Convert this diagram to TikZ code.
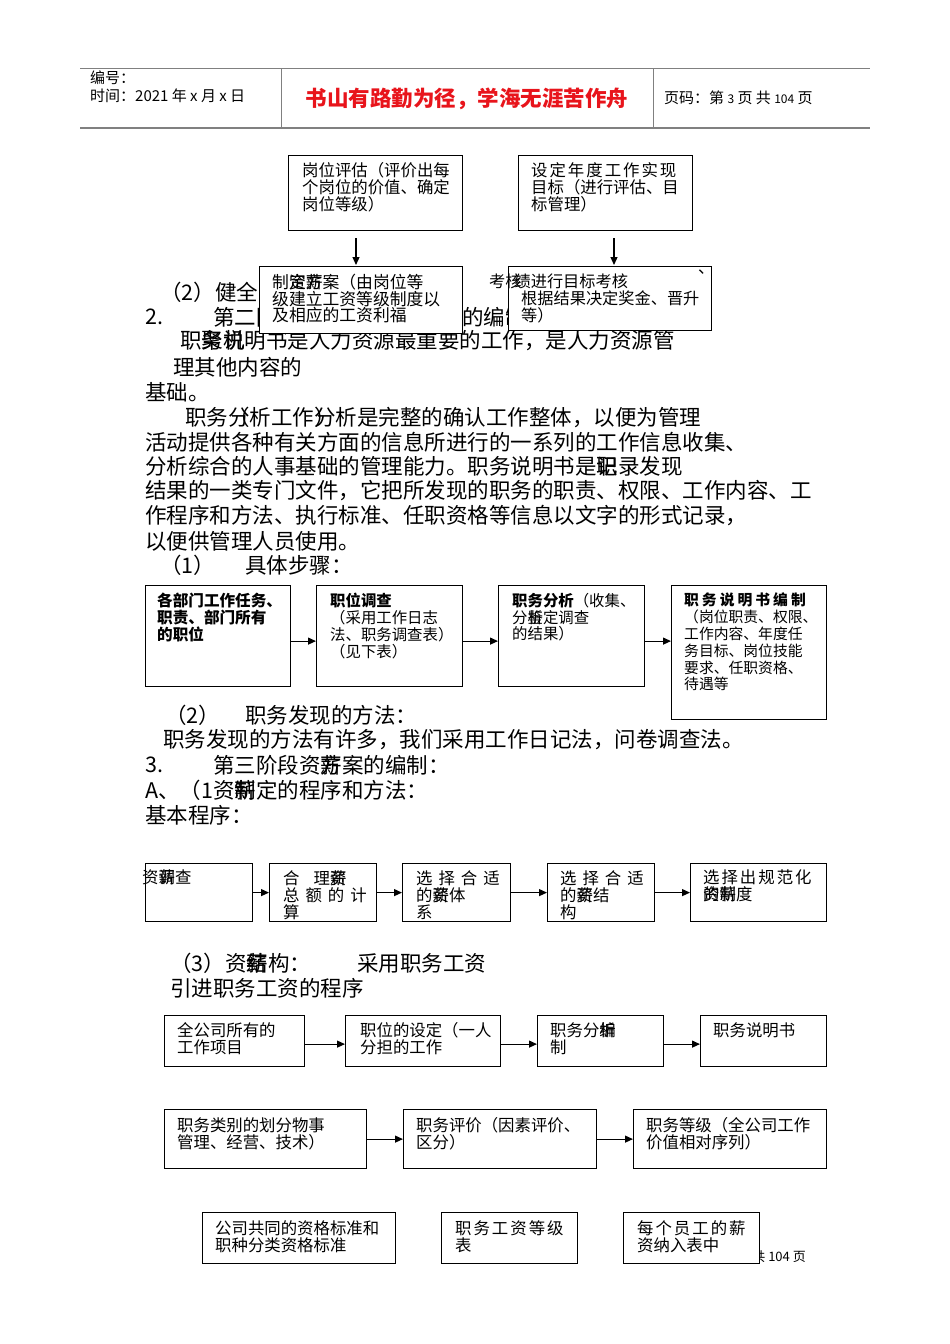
\documentclass[tikz,border=0pt]{standalone}
\usepackage{fontspec}
\setmainfont{Noto Sans CJK SC}
\usetikzlibrary{arrows.meta}
\definecolor{hdred}{HTML}{E8141B}
\definecolor{hdgray}{HTML}{808080}
\begin{document}
\begin{tikzpicture}[x=1pt,y=-1pt,
  box/.style={draw, line width=1.2pt, fill=white, anchor=north west, inner sep=0pt},
  bt/.style={anchor=north west, inner sep=0pt, align=left, font=\fontsize{16.4}{17}\selectfont},
  body/.style={anchor=west, inner sep=0pt, font=\fontsize{21.5}{25}\selectfont},
  hd/.style={anchor=west, inner sep=0pt, font=\fontsize{15}{17}\selectfont},
  arr/.style={line width=1.2pt, -{Triangle[length=8pt,width=7pt]}}]
\path[use as bounding box, fill=white] (0,0) rectangle (950,1344);

% ---------- header ----------
\draw[hdgray, line width=0.8pt] (80,68) -- (870,68);
\draw[hdgray, line width=2pt] (80,128) -- (870,128);
\draw[hdgray, line width=0.8pt] (281,68) -- (281,128);
\draw[hdgray, line width=0.8pt] (653,68) -- (653,128);
\node[hd] (h1) at (90,78) {编号：};
\node[hd] (h2) at (90,96) {时间：2021 年 x 月 x 日};
\node[anchor=center, inner sep=0pt, text=hdred, font=\fontsize{21.5}{24}\selectfont\bfseries] (h3) at (467,99) {书山有路勤为径，学海无涯苦作舟};
\node[hd] (h4) at (664,98) {页码：第 {\fontsize{12}{14}\selectfont 3} 页 共 {\fontsize{12}{14}\selectfont 104} 页};

% ---------- body text (behind boxes) ----------
\node[body] (t1) at (160,292) {（2）健全};
\node[body] (t2a) at (145,317) {2.};
\node[body] (t2b) at (213,317) {第二阶段};
\node[body] (t2c) at (462,317) {的编制};
\node[body] (t3) at (180,341) {职\rlap{聚}务\rlap{机}说明书是人力资源最重要的工作，是人力资源管};
\node[body] (t4) at (173,367) {理其他内容的};
\node[body] (t5) at (145,392) {基础。};
\node[body] (t6) at (185,417) {职务\rlap{（}分析工作\rlap{）}分析是完整的确认工作整体，以便为管理};
\node[body] (t7) at (145,442) {活动提供各种有关方面的信息所进行的一系列的工作信息收集、};
\node[body] (t8) at (145,466) {分析综合的人事基础的管理能力。职务说明书是\rlap{职}记录发现};
\node[body] (t9) at (145,491) {结果的一类专门文件，它把所发现的职务的职责、权限、工作内容、工};
\node[body] (t10) at (145,516) {作程序和方法、执行标准、任职资格等信息以文字的形式记录，};
\node[body] (t11) at (145,541) {以便供管理人员使用。};
\node[body] (t12a) at (160,565) {（1）};
\node[body] (t12b) at (245,565) {具体步骤：};

% ---------- top boxes ----------
\node[box, minimum width=174pt, minimum height=75pt] (a1) at (288,155) {};
\node[bt] (a1t) at (302,162) {岗位评估（评价出每\\个岗位的价值、确定\\岗位等级）};
\node[box, minimum width=174pt, minimum height=75pt] (a2) at (518,155) {};
\node[bt] (a2t) at (531,162) {设\hspace{2pt}定\hspace{2pt}年\hspace{2pt}度\hspace{2pt}工\hspace{2pt}作\hspace{2pt}实\hspace{2pt}现\\目标（进行评估、目\\标管理）};
\coordinate (p1) at (356,238); \coordinate (p2) at (356,265);
\coordinate (p3) at (614,238); \coordinate (p4) at (614,265);
\draw[arr] (p1) -- (p2);
\draw[arr] (p3) -- (p4);
\node[box, minimum width=203pt, minimum height=67pt] (b1) at (259,266) {};
\node[bt, font=\fontsize{16.8}{16.6}\selectfont] (b1t) at (272,274) {制\rlap{定}资\rlap{方}薪案（由岗位等\\级建立工资等级制度以\\及相应的工资利福};
\node[box, minimum width=203pt, minimum height=64pt] (b2) at (508,266) {};
\node[bt, font=\fontsize{16.2}{16.6}\selectfont] (b2t) at (489,274) {考核\kern-7pt 绩进行目标考核\\\hspace{32pt}根据结果决定奖金、晋升\\\hspace{32pt}等）};
\node[bt] (b2p) at (698,270) {、};

% ---------- step boxes ----------
\node[box, minimum width=145pt, minimum height=101pt] (s1) at (145,585) {};
\node[bt, font=\fontsize{15.6}{16.8}\selectfont\bfseries] (s1t) at (157,593) {各部门工作任务、\\职责、部门所有\\的职位};
\node[box, minimum width=146pt, minimum height=101pt] (s2) at (316,585) {};
\node[bt, font=\fontsize{15.4}{16.8}\selectfont] (s2t) at (330,593) {\textbf{职位调查}\\（采用工作日志\\法、职务调查表）\\（见下表）};
\node[box, minimum width=146pt, minimum height=101pt] (s3) at (498,585) {};
\node[bt, font=\fontsize{15.4}{16.8}\selectfont] (s3t) at (512,593) {\textbf{职务分析}（收集、\\分\rlap{析}鉴定调查\\的结果）};
\node[box, minimum width=155pt, minimum height=134pt] (s4) at (671,585) {};
\node[bt, font=\fontsize{14.8}{16.8}\selectfont] (s4t) at (684,593) {\textbf{职\hspace{3pt}务\hspace{3pt}说\hspace{3pt}明\hspace{3pt}书\hspace{3pt}编\hspace{3pt}制}\\（岗位职责、权限、\\工作内容、年度任\\务目标、岗位技能\\要求、任职资格、\\待遇等};
\draw[arr] ([yshift=-5pt]s1.east) -- ([yshift=-5pt]s1.east -| s2.west);
\draw[arr] ([yshift=-5pt]s2.east) -- ([yshift=-5pt]s2.east -| s3.west);
\draw[arr] ([yshift=-5pt]s3.east) -- ([yshift=-5pt]s3.east -| s4.west);

% ---------- middle text ----------
\node[body] (u1a) at (165,715) {（2）};
\node[body] (u1b) at (245,715) {职务发现的方法：};
\node[body] (u2) at (163,740) {职务发现的方法有许多，我们采用工作日记法，问卷调查法。};
\node[body] (u3a) at (145,765) {3.};
\node[body] (u3b) at (213,765) {第三阶段资\rlap{薪}方案的编制：};
\node[body] (u4) at (145,790) {A、（1资\rlap{薪}制定的程序和方法：};
\node[body] (u5) at (145,815) {基本程序：};

% ---------- C row ----------
\node[box, minimum width=107pt, minimum height=58pt] (c1) at (145,863) {};
\node[bt] (c1t) at (142,870) {资\rlap{薪}调查};
\node[box, minimum width=107pt, minimum height=58pt] (c2) at (269,863) {};
\node[bt] (c2t) at (283,870) {合\hspace{14pt}理\rlap{资}薪\\总\hspace{6pt}额\hspace{6pt}的\hspace{6pt}计\\算};
\node[box, minimum width=108pt, minimum height=58pt] (c3) at (402,863) {};
\node[bt] (c3t) at (416,870) {选\hspace{6pt}择\hspace{6pt}合\hspace{6pt}适\\的\rlap{资}薪体\\系};
\node[box, minimum width=107pt, minimum height=58pt] (c4) at (547,863) {};
\node[bt] (c4t) at (560,870) {选\hspace{6pt}择\hspace{6pt}合\hspace{6pt}适\\的\rlap{资}薪结\\构};
\node[box, minimum width=136pt, minimum height=58pt] (c5) at (690,863) {};
\node[bt] (c5t) at (703,870) {选\hspace{2pt}择\hspace{2pt}出\hspace{2pt}规\hspace{2pt}范\hspace{2pt}化\\\rlap{的}资\rlap{薪}制度};
\draw[arr] (c1.east) -- (c2.west);
\draw[arr] (c2.east) -- (c3.west);
\draw[arr] (c3.east) -- (c4.west);
\draw[arr] (c4.east) -- (c5.west);

\node[body] (v1a) at (170,963) {（3）资\rlap{薪}结构：};
\node[body] (v1b) at (357,963) {采用职务工资};
\node[body] (v2) at (170,988) {引进职务工资的程序};

% ---------- D row ----------
\node[box, minimum width=140pt, minimum height=51pt] (d1) at (164,1015) {};
\node[bt] (d1t) at (177,1022) {全公司所有的\\工作项目};
\node[box, minimum width=155pt, minimum height=51pt] (d2) at (345,1015) {};
\node[bt] (d2t) at (360,1022) {职位的设定（一人\\分担的工作};
\node[box, minimum width=126pt, minimum height=51pt] (d3) at (537,1015) {};
\node[bt] (d3t) at (550,1022) {职务分\rlap{析}编\\制};
\node[box, minimum width=126pt, minimum height=51pt] (d4) at (700,1015) {};
\node[bt] (d4t) at (713,1022) {职务说明书};
\draw[arr] ([yshift=-3pt]d1.east) -- ([yshift=-3pt]d1.east -| d2.west);
\draw[arr] ([yshift=-3pt]d2.east) -- ([yshift=-3pt]d2.east -| d3.west);
\draw[arr] ([yshift=-3pt]d3.east) -- ([yshift=-3pt]d3.east -| d4.west);

% ---------- E row ----------
\node[box, minimum width=202pt, minimum height=59pt] (e1) at (164,1109) {};
\node[bt] (e1t) at (177,1117) {职务类别的划分物事\\管理、经营、技术）};
\node[box, minimum width=193pt, minimum height=59pt] (e2) at (403,1109) {};
\node[bt] (e2t) at (416,1117) {职务评价（因素评价、\\区分）};
\node[box, minimum width=193pt, minimum height=59pt] (e3) at (633,1109) {};
\node[bt] (e3t) at (646,1117) {职务等级（全公司工作\\价值相对序列）};
\draw[arr] (e1.east) -- (e2.west);
\draw[arr] (e2.east) -- (e3.west);

% ---------- F row ----------
\node[anchor=east, inner sep=0pt, font=\fontsize{13}{15}\selectfont] (foot) at (806,1257) {第 3 页 共 104 页};
\node[box, minimum width=193pt, minimum height=51pt] (f1) at (202,1212) {};
\node[bt] (f1t) at (215,1220) {公司共同的资格标准和\\职种分类资格标准};
\node[box, minimum width=136pt, minimum height=51pt] (f2) at (441,1212) {};
\node[bt] (f2t) at (455,1220) {职\hspace{2pt}务\hspace{2pt}工\hspace{2pt}资\hspace{2pt}等\hspace{2pt}级\\表};
\node[box, minimum width=136pt, minimum height=51pt] (f3) at (623,1212) {};
\node[bt] (f3t) at (637,1220) {每\hspace{2pt}个\hspace{2pt}员\hspace{2pt}工\hspace{2pt}的\hspace{2pt}薪\\资纳入表中};
\end{tikzpicture}
\end{document}
